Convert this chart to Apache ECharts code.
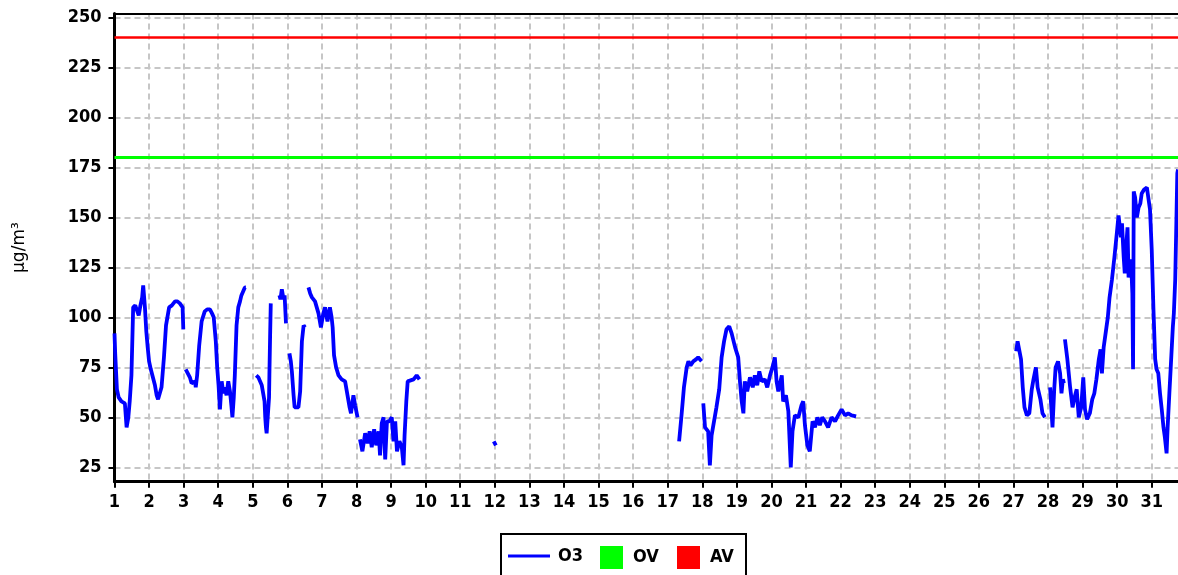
<!DOCTYPE html>
<html>
<head>
<meta charset="utf-8">
<script src="https://cdn.jsdelivr.net/npm/echarts@6/dist/echarts.min.js"></script>
<style>
html,body{margin:0;padding:0;background:#ffffff;}
#chart{width:1178px;height:575px;}
</style>
</head>
<body>
<div id="chart"></div>
<script>
// ---- data ----
const dayTickValues = [1,2,3,4,5,6,7,8,9,10,11,12,13,14,15,16,17,18,19,20,21,22,23,24,25,26,27,28,29,30,31];
const yTickValues = [25, 50, 75, 100, 125, 150, 175, 200, 225, 250];
const xMin = 1;
const xMax = 31.76;
const yMin = 17.8;
const yMax = 252;

// O3 measurements: day of month (fractional) and value in µg/m³; null = gap
const o3Days = [
  1.00,1.02,1.07,1.12,1.20,1.30,1.35,1.40,1.44,1.49,1.54,1.60,1.64,1.70,1.75,1.80,1.83,1.88,1.92,1.96,2.00,2.05,2.10,2.17,2.22,2.26,2.31,2.36,2.43,2.49,2.58,2.66,2.75,2.82,2.89,2.97,2.99,
  3.02,
  3.06,3.12,3.18,3.23,3.28,3.33,3.35,3.39,3.45,3.52,3.61,3.68,3.76,3.82,3.87,3.93,3.97,4.01,4.05,4.10,4.15,4.19,4.24,4.29,4.34,4.38,4.41,4.45,4.48,4.53,4.58,4.63,4.67,4.72,4.77,4.80,
  4.95,
  5.10,5.16,5.21,5.26,5.31,5.34,5.36,5.38,5.40,5.45,5.47,5.48,5.50,5.52,
  5.65,
  5.77,5.80,5.84,5.89,5.92,5.94,5.96,
  6.01,
  6.06,6.10,6.13,6.18,6.21,6.26,6.32,6.37,6.42,6.47,6.51,
  6.56,
  6.61,6.66,6.71,6.76,6.80,6.85,6.90,6.97,7.04,7.09,7.16,7.23,7.28,7.31,7.35,7.41,7.48,7.57,7.67,7.74,7.80,7.84,7.91,7.96,8.03,
  8.06,
  8.10,8.17,8.25,8.32,8.38,8.44,8.51,8.57,8.64,8.68,8.73,8.78,8.83,8.88,8.95,9.02,9.07,9.12,9.17,9.24,9.31,9.36,9.39,9.44,9.48,9.53,9.65,9.74,9.82,
  10.9,
  11.97,12.03,
  15.0,
  17.33,17.40,17.47,17.55,17.60,17.66,17.74,17.82,17.88,17.98,
  18.00,
  18.03,18.08,18.17,18.22,18.27,18.34,18.41,18.49,18.56,18.63,18.70,18.78,18.85,18.95,19.04,19.09,19.14,19.19,19.23,19.30,19.38,19.46,19.52,19.59,19.65,19.72,19.81,19.88,19.96,20.03,20.10,20.15,20.20,20.30,20.34,20.42,20.49,20.56,20.61,20.68,20.78,20.87,20.92,20.97,21.04,21.11,21.19,21.26,21.33,21.40,21.47,21.55,21.64,21.74,21.84,21.93,22.03,22.13,22.22,22.32,22.45,
  25.0,
  27.08,27.12,27.17,27.22,27.27,27.32,27.39,27.46,27.53,27.58,27.65,27.70,27.78,27.84,27.91,
  28.0,
  28.06,28.13,28.18,28.22,28.29,28.35,28.39,28.43,28.46,
  28.475,
  28.49,28.56,28.64,28.71,28.77,28.83,28.89,28.96,29.02,29.07,29.13,29.21,29.28,29.34,29.40,29.47,29.52,29.56,29.61,29.69,29.73,29.78,29.85,29.92,29.99,30.04,30.11,30.14,30.19,30.22,30.26,30.30,30.33,30.40,30.44,30.46,30.48,30.52,30.57,30.62,30.67,30.71,30.78,30.86,30.90,30.95,31.00,31.05,31.10,31.14,31.19,31.24,31.29,31.34,31.38,31.43,31.46,31.51,31.55,31.61,31.64,31.68,31.72,31.74,31.76
];
const o3Values = [
  92,82,64,60,58,57,45,50,58,71,105,106,105,101,106,110,116,105,93,85,78,74,73,66,61,59,62,65,80,96,105,106,108,108,107,105,94,
  null,
  74,72,70,67,66,68,65,71,86,98,103,104,104,102,100,88,75,66,54,68,62,65,61,68,63,56,50,60,71,96,105,108,111,113,115,115,
  null,
  71,70,68,66,65,58,50,45,42,43,60,71,90,107,
  null,
  111,109,114,109,111,111,97,
  null,
  82,78,73,61,55,56,55,63,88,96,95,
  null,
  115,112,110,109,108,105,102,95,102,105,98,105,100,95,81,75,71,69,68,61,55,52,61,56,50,
  null,
  39,33,42,37,43,35,44,36,43,31,47,50,29,48,48,50,38,48,33,38,35,26,41,58,68,69,69,71,69,
  null,
  38,36,
  null,
  38,51,65,75,78,76,78,79,80,78,
  null,
  57,45,43,26,41,48,55,64,80,88,94,95.5,92,85,80,68,58,52,68,63,70,65,71,66,73,68,69,65,71,75,80,68,63,71,58,61,53,25,43,51,50,56,58,46,36,33,48,45,50,46,50,48,45,50,48,51,54,51,52,51,50.5,
  null,
  83,88,89,79,65,55,51,52,64,69,75,65,59,52,50,
  null,
  65,45,64,75,78,72,62,69,67,
  null,
  89,79,65,55,60,64,50,55,70,54,49,52,59,62,69,79,84,72,85,95,100,110,119,130,142,151,140,147,130,122,135,145,120,129,112,74,163,160,150,155,157,162,164,165,164,154,134,104,79,74,72,62,54,45,40,32,45,62,75,95,102,119,154,172,174
];

const ovValue = 180;
const avValue = 240;

// ---- build series data from the named arrays ----
const o3Data = o3Days.map((d, i) => [d, o3Values[i]]);
const ovData = [[xMin, ovValue], [xMax, ovValue]];
const avData = [[xMin, avValue], [xMax, avValue]];

const tickFont = "'DejaVu Sans Condensed', 'DejaVu Sans', sans-serif";
const gridLine = {show: true, lineStyle: {color: '#c6c6c6', width: 2, type: [6, 4]}};

const chart = echarts.init(document.getElementById('chart'), null, {renderer: 'canvas'});
chart.setOption({
  animation: false,
  backgroundColor: '#ffffff',
  grid: {left: 114.5, top: 13.5, right: 0, bottom: 93.3, show: false},
  xAxis: [{
    type: 'value', min: xMin, max: xMax, position: 'bottom',
    axisLine: {show: true, lineStyle: {color: '#000000', width: 3}},
    axisTick: {show: true, length: 6, lineStyle: {color: '#000000', width: 2}, customValues: dayTickValues},
    axisLabel: {
      show: true, margin: 12, color: '#000000', fontSize: 18, fontWeight: 'bold', fontFamily: tickFont,
      customValues: dayTickValues
    },
    splitLine: gridLine
  }, {
    type: 'value', min: xMin, max: xMax, position: 'top',
    axisLine: {show: true, lineStyle: {color: '#000000', width: 2}},
    axisTick: {show: false}, axisLabel: {show: false}, splitLine: {show: false}
  }],
  yAxis: {
    type: 'value', min: yMin, max: yMax,
    name: 'µg/m³', nameLocation: 'middle', nameGap: 86, nameRotate: 90,
    nameTextStyle: {color: '#000000', fontSize: 17, fontFamily: "'DejaVu Sans', sans-serif"},
    axisLine: {show: true, lineStyle: {color: '#000000', width: 3}},
    axisTick: {show: true, length: 6, lineStyle: {color: '#000000', width: 2}, customValues: yTickValues},
    axisLabel: {
      show: true, margin: 13, color: '#000000', fontSize: 18, fontWeight: 'bold', fontFamily: tickFont,
      customValues: yTickValues
    },
    splitLine: gridLine
  },
  legend: [
    {data: [{name: 'O3', icon: 'rect'}], left: 508, top: 547, itemWidth: 42, itemHeight: 3, padding: 0, selectedMode: false,
     textStyle: {color: '#000', fontSize: 18, fontWeight: 'bold', fontFamily: tickFont, padding: [0, 0, 0, 3]}},
    {data: [{name: 'OV', icon: 'rect'}], left: 600, top: 546, itemWidth: 23, itemHeight: 23, padding: 0, selectedMode: false,
     textStyle: {color: '#000', fontSize: 18, fontWeight: 'bold', fontFamily: tickFont, padding: [0, 0, 0, 5]}},
    {data: [{name: 'AV', icon: 'rect'}], left: 677, top: 546, itemWidth: 23, itemHeight: 23, padding: 0, selectedMode: false,
     textStyle: {color: '#000', fontSize: 18, fontWeight: 'bold', fontFamily: tickFont, padding: [0, 0, 0, 5]}}
  ],
  graphic: [{
    type: 'rect', left: 500, top: 533, z: -1,
    shape: {width: 245, height: 60},
    style: {fill: '#ffffff', stroke: '#000000', lineWidth: 2}
  }],
  series: [
    {
      name: 'O3', type: 'line', data: o3Data, showSymbol: false, symbol: 'none',
      connectNulls: false, clip: true,
      lineStyle: {color: '#0000ff', width: 3.8}, itemStyle: {color: '#0000ff'}, z: 3
    },
    {
      name: 'OV', type: 'line', data: ovData, showSymbol: false, symbol: 'none',
      lineStyle: {color: '#00ff00', width: 3}, itemStyle: {color: '#00ff00'}, z: 4
    },
    {
      name: 'AV', type: 'line', data: avData, showSymbol: false, symbol: 'none',
      lineStyle: {color: '#ff0000', width: 2.5}, itemStyle: {color: '#ff0000'}, z: 4
    }
  ]
});
</script>
</body>
</html>
